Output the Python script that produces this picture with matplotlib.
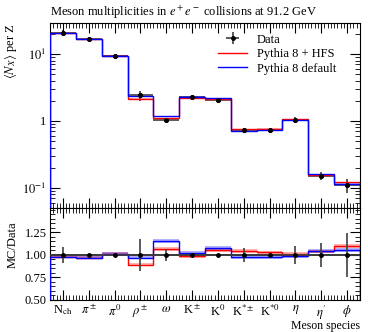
import numpy as np
import matplotlib
matplotlib.use('Agg')
import matplotlib.pyplot as plt
from matplotlib.ticker import FixedLocator, FuncFormatter, MultipleLocator, LogLocator
from matplotlib.lines import Line2D

plt.rcParams['font.family'] = ['Liberation Serif', 'DejaVu Serif']
plt.rcParams['mathtext.fontset'] = 'stix'
plt.rcParams['font.size'] = 9

# 数据
species = [r'N$_{\rm ch}$', r'$\pi^\pm$', r'$\pi^0$', r'$\rho^\pm$', r'$\omega$',
           r'K$^\pm$', r'K$^0$', r'K$^{*\pm}$', r'K$^{*0}$', r'$\eta$', r'$\eta^{\prime}$', r'$\phi$']
data = np.array([20.9, 17.0, 9.4, 2.40, 1.02, 2.24, 2.03, 0.72, 0.74, 1.05, 0.152, 0.110])
data_relerr = np.array([0.09, 0.01, 0.02, 0.18, 0.07, 0.01, 0.005, 0.08, 0.02, 0.10, 0.13, 0.24])
hfs = np.array([20.5, 16.5, 9.5, 2.14, 1.09, 2.22, 2.13, 0.75, 0.76, 1.06, 0.158, 0.121])
default = np.array([20.5, 16.5, 9.5, 2.33, 1.18, 2.28, 2.19, 0.705, 0.72, 1.04, 0.159, 0.116])

edges = np.arange(len(species) + 1)
centers = edges[:-1] + 0.5
band = 0.02

fig = plt.figure(figsize=(3.68, 3.32), dpi=100)
ax1 = fig.add_axes([0.136, 0.3735, 0.842, 0.557])
ax2 = fig.add_axes([0.136, 0.0964, 0.842, 0.2771], sharex=ax1)

# 主图
for vals, col, lab in [(hfs, 'red', 'Pythia 8 + HFS'), (default, 'blue', 'Pythia 8 default')]:
    ax1.stairs(vals * (1 + band), edges, baseline=vals * (1 - band), fill=True,
               color=col, alpha=0.3, lw=0, zorder=2)
    ax1.stairs(vals, edges, color=col, lw=1.0, zorder=3)

eb = ax1.errorbar(centers, data, xerr=0.5, yerr=data * data_relerr, fmt='o', ms=2.5,
                  color='black', ecolor='0.25', elinewidth=1.2, capsize=0, zorder=1)
ax1.plot(centers, data, 'o', ms=2.5, color='black', zorder=4)

ax1.set_yscale('log')
ax1.set_ylim(0.05, 29)
ax1.set_xlim(0, 12)
ax1.yaxis.set_major_formatter(FuncFormatter(
    lambda v, p: '1' if abs(v - 1) < 1e-9 else r'$10^{%d}$' % round(np.log10(v))))
ax1.yaxis.set_minor_locator(LogLocator(subs=np.arange(2, 10)))
ax1.yaxis.set_minor_formatter(FuncFormatter(lambda v, p: ''))
ax1.set_ylabel(r'$\langle N_X \rangle$ per Z', loc='top')
ax1.yaxis.set_label_coords(-0.1, 1.0)
ax1.set_title(r'Meson multiplicities in $e^+e^-$ collisions at 91.2 GeV', loc='left',
              fontsize=9, pad=5)
plt.setp(ax1.get_xticklabels(), visible=False)

handles = [eb,
           Line2D([], [], color='red', lw=1.0),
           Line2D([], [], color='blue', lw=1.0)]
ax1.legend(handles, ['Data', 'Pythia 8 + HFS', 'Pythia 8 default'], loc='upper right',
           bbox_to_anchor=(0.94, 0.97), frameon=False, handlelength=2.3,
           labelspacing=0.2, borderaxespad=0, fontsize=9)

# 比值图
ax2.axhline(1.0, color='black', lw=1.2, zorder=1)
for vals, col in [(hfs, 'red'), (default, 'blue')]:
    r = vals / data
    ax2.stairs(r + band, edges, baseline=r - band, fill=True, color=col, alpha=0.3, lw=0, zorder=2)
    ax2.stairs(r, edges, color=col, lw=1.0, zorder=3)
ax2.errorbar(centers, np.ones_like(data), xerr=0.5, yerr=data_relerr, fmt='o', ms=2.5,
             color='black', ecolor='0.25', elinewidth=1.2, capsize=0, zorder=4)

ax2.set_ylim(0.5, 1.52)
ax2.yaxis.set_major_locator(FixedLocator([0.5, 0.75, 1.0, 1.25]))
ax2.yaxis.set_minor_locator(MultipleLocator(0.05))
ax2.yaxis.set_major_formatter(FuncFormatter(lambda v, p: '%.2f' % v))
ax2.set_ylabel('MC/Data')
ax2.yaxis.set_label_coords(-0.1, 0.6)
ax2.set_xticks(centers)
ax2.set_xticklabels(species)
ax2.xaxis.set_minor_locator(MultipleLocator(0.125))
ax2.set_xlabel('Meson species', loc='right', labelpad=-1, fontsize=8.5)

for ax in (ax1, ax2):
    ax.tick_params(which='both', direction='in', top=True, right=True)
    ax.tick_params(which='major', length=7, width=0.8, pad=2.5)
    ax.tick_params(which='minor', length=3.5, width=0.6)

fig.savefig('out.png', dpi=100)
